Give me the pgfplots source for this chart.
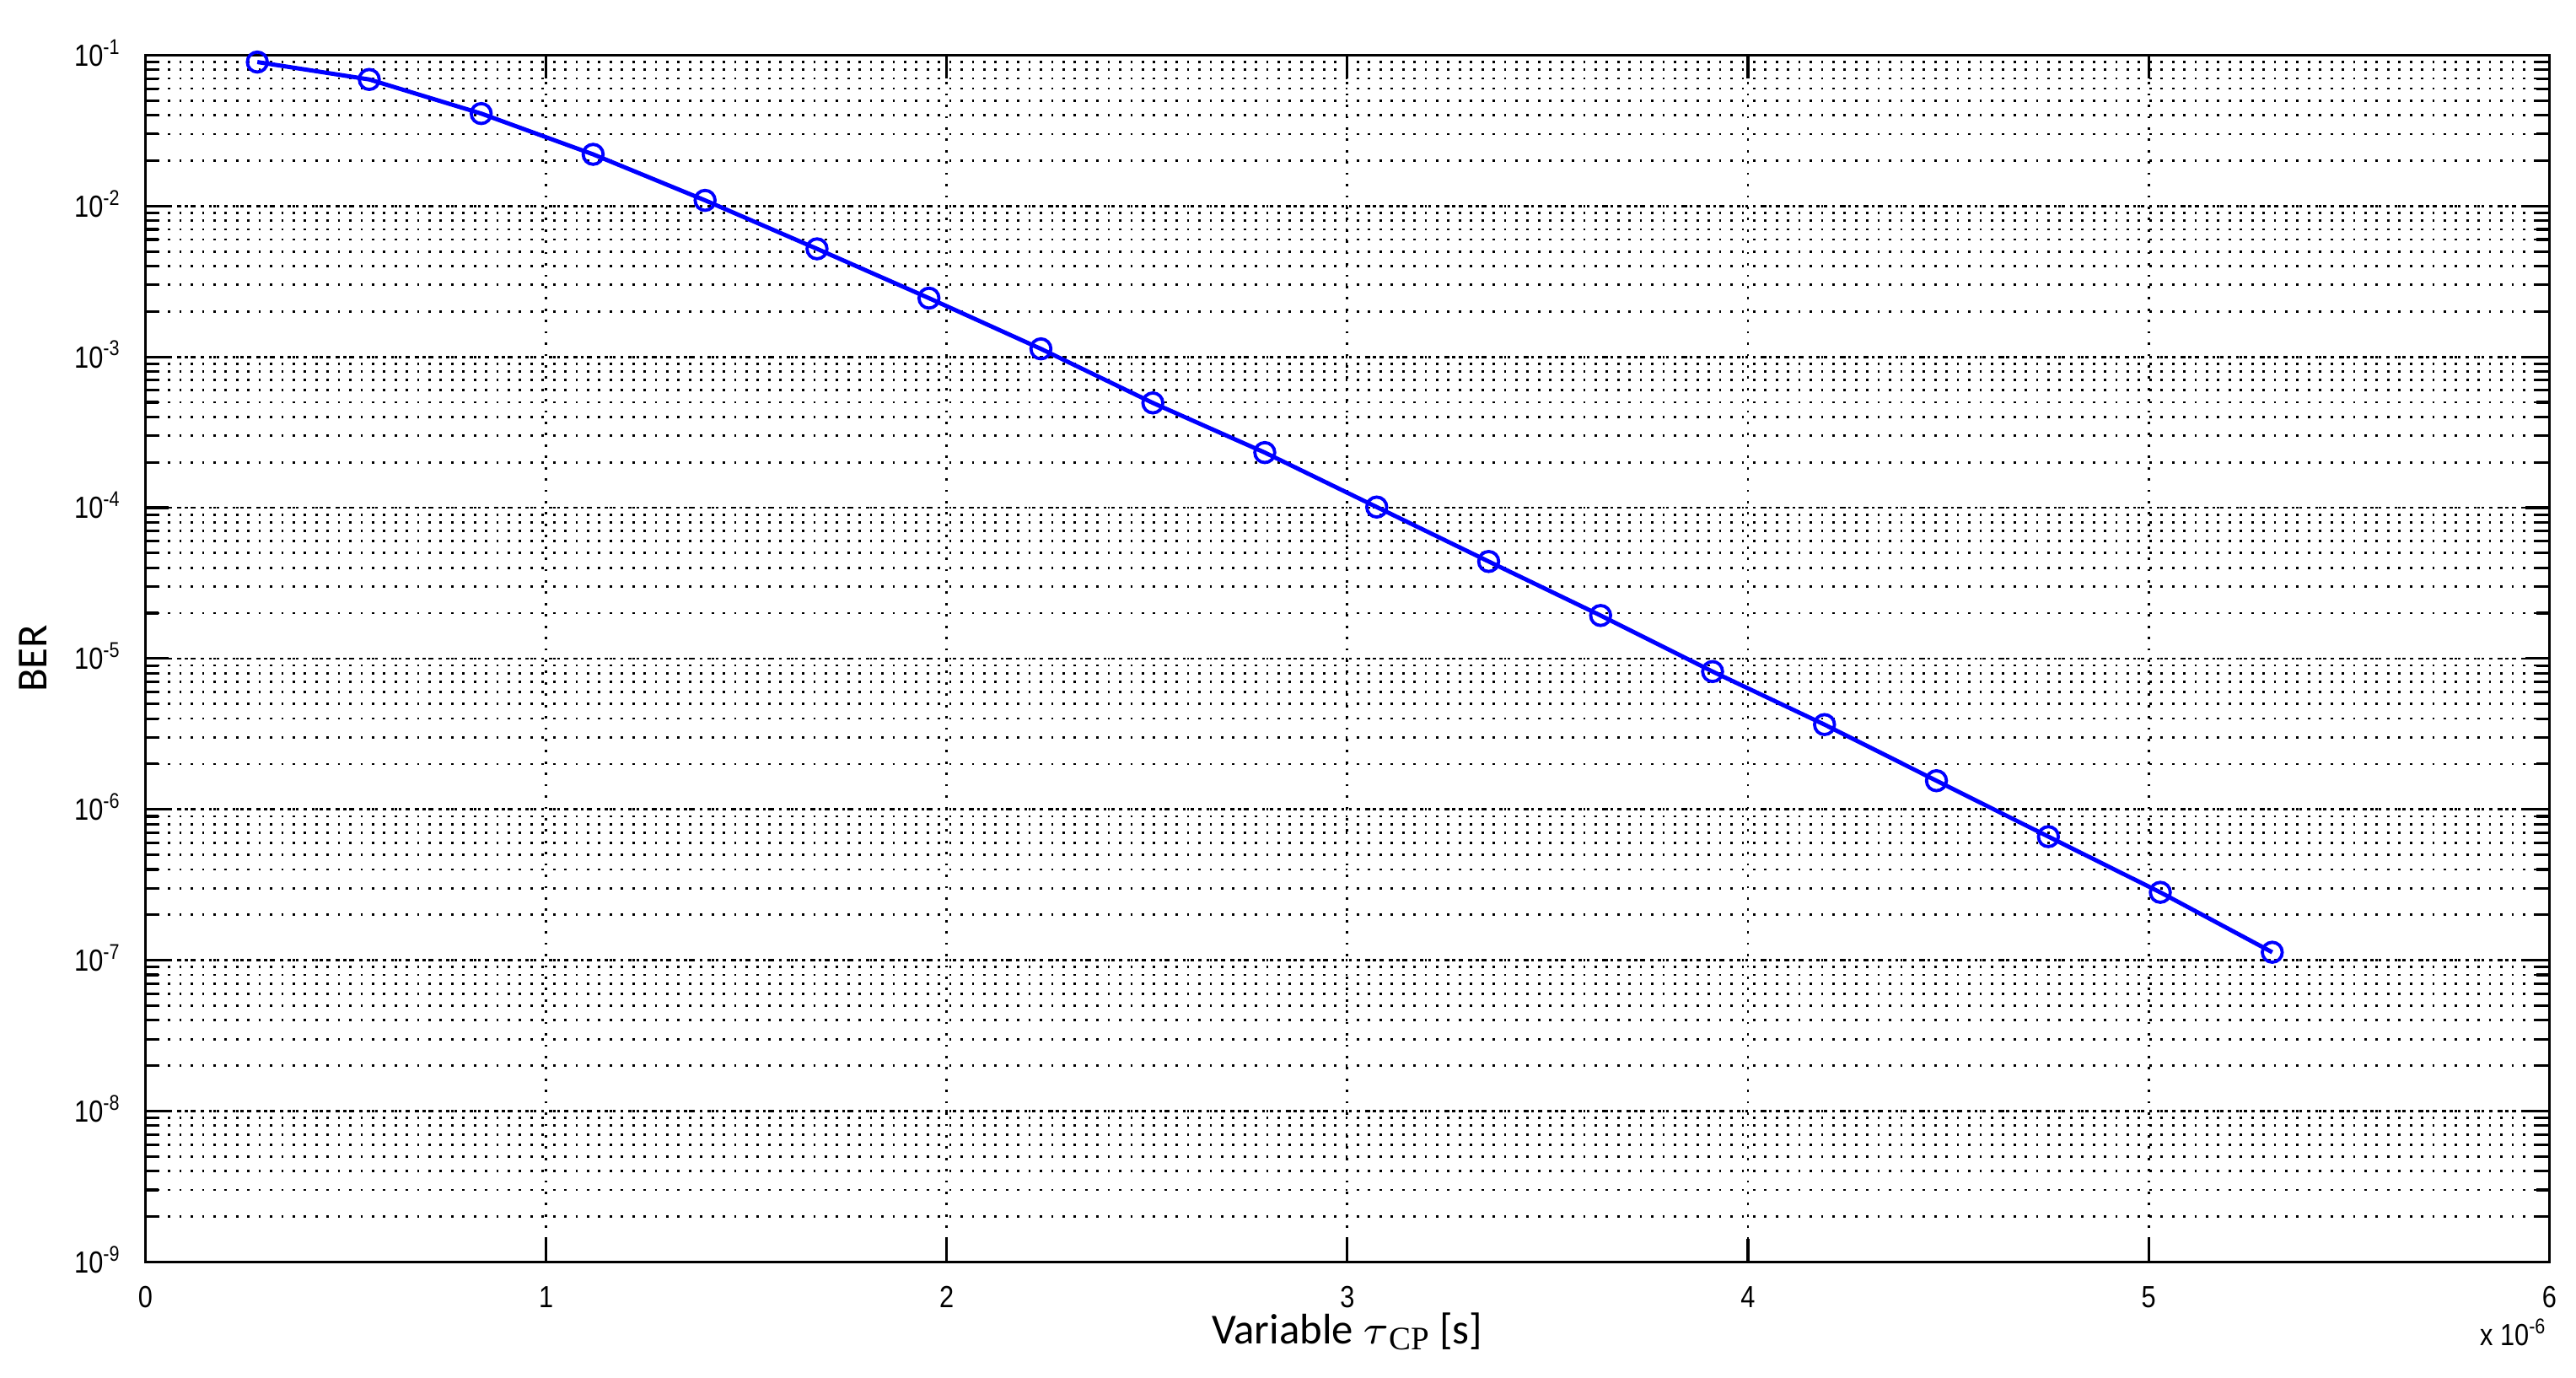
\documentclass[border=0pt]{standalone}
\usepackage{fontspec}
\setmainfont{Liberation Sans}
\newfontfamily\tickfont[FakeStretch=0.85]{Liberation Sans}
\newfontfamily\labfont{Carlito}
\newfontfamily\subfont{Liberation Serif}
\usepackage{pgfplots}
\pgfplotsset{compat=1.18}

\begin{document}
\begin{tikzpicture}
\begin{semilogyaxis}[
  width=409.8pt, height=205.7pt,
  scale only axis,
  xmin=0, xmax=6,
  ymin=1e-9, ymax=1e-1,
  xtick={0,1,2,3,4,5,6},
  xticklabels={0,1,2,3,4,5,6},
  ytick={1e-9,1e-8,1e-7,1e-6,1e-5,1e-4,1e-3,1e-2,1e-1},
  yticklabels={10\textsuperscript{-9},10\textsuperscript{-8},10\textsuperscript{-7},10\textsuperscript{-6},10\textsuperscript{-5},10\textsuperscript{-4},10\textsuperscript{-3},10\textsuperscript{-2},10\textsuperscript{-1}},
  tick label style={font=\tickfont\fontsize{5.2}{6}\selectfont},
  yticklabel style={anchor=base east, yshift=-1.85pt, xshift=-0.4pt},
  xticklabel style={yshift=-0.6pt},
  tick align=inside,
  major tick length=4pt,
  minor tick length=2.2pt,
  axis line style={line width=0.5pt},
  every tick/.style={black, line width=0.45pt},
  grid=both,
  major grid style={black, line width=0.4pt, dash pattern=on 0.4pt off 1.53pt},
  minor grid style={black, line width=0.4pt, dash pattern=on 0.4pt off 1.53pt},
  major y grid style={black, line width=0.4pt, dash pattern=on 0.5pt off 0.85pt},
  xlabel={\labfont\fontsize{7.3}{8}\selectfont Variable $\tau$\raisebox{-1pt}{\subfont\fontsize{5.6}{6}\selectfont CP} [s]},
  ylabel={\labfont\fontsize{7.3}{8}\selectfont BER},
  xlabel style={yshift=6pt},
  ylabel style={yshift=-2.2pt},
  clip=false,
]
\addplot[color={rgb,255:red,0;green,0;blue,255}, line width=0.72pt, mark=o,
  mark size=1.7pt, mark options={solid, line width=0.55pt}] coordinates {
  (0.2794,9.0e-2) (0.5588,6.9e-2) (0.8382,4.1e-2) (1.1176,2.2e-2)
  (1.3970,1.09e-2) (1.6764,5.2e-3) (1.9558,2.45e-3) (2.2352,1.13e-3)
  (2.5146,4.95e-4) (2.7940,2.32e-4) (3.0734,1.01e-4) (3.3528,4.4e-5)
  (3.6322,1.93e-5) (3.9116,8.2e-6) (4.1910,3.65e-6) (4.4704,1.55e-6)
  (4.7498,6.6e-7) (5.0292,2.82e-7) (5.3086,1.13e-7)
};
\node[anchor=base east, font=\tickfont\fontsize{5.2}{6}\selectfont, inner sep=0pt]
  at ([yshift=-14.2pt]rel axis cs:1,0) {x 10\textsuperscript{-6}};
\path ([yshift=9.4pt]rel axis cs:0,1) ([yshift=-19.7pt]rel axis cs:0,0);
\end{semilogyaxis}
\end{tikzpicture}
\end{document}
